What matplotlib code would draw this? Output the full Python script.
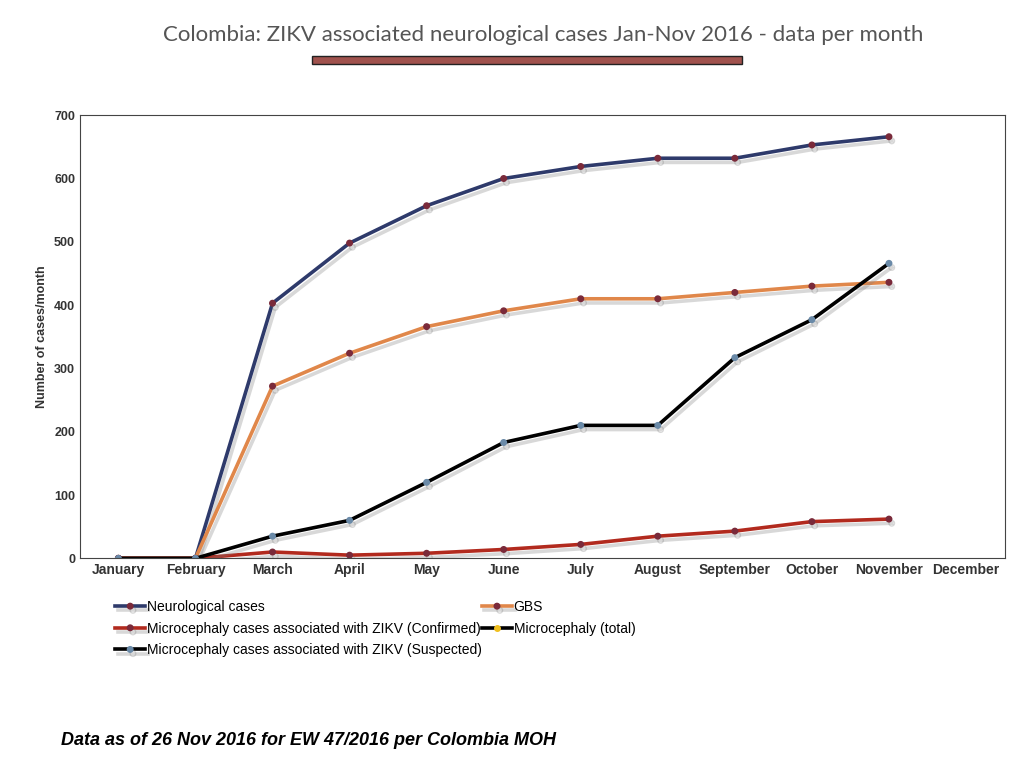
import matplotlib.pyplot as plt
import matplotlib.patheffects as pe
from matplotlib.lines import Line2D
import numpy as np

plt.rcParams["font.family"] = ["Liberation Sans", "DejaVu Sans"]

months = ["January", "February", "March", "April", "May", "June", "July",
          "August", "September", "October", "November", "December"]
neuro = [0, 0, 403, 498, 557, 600, 619, 632, 632, 653, 666]
gbs = [0, 0, 272, 324, 366, 391, 410, 410, 420, 430, 436]
micro_conf = [0, 0, 10, 5, 8, 14, 22, 35, 43, 58, 62]
micro_susp = [0, 0, 35, 60, 120, 183, 210, 210, 317, 377, 466]

fig = plt.figure(figsize=(10.24, 7.68), dpi=100)
ax = fig.add_axes([0.078, 0.273, 0.903, 0.577])

shadow = [pe.SimpleLineShadow(offset=(2, -3), shadow_color="gray", alpha=0.3), pe.Normal()]
x = np.arange(len(neuro))

series = [
    (neuro, "#2e3a6b", "#7a2a3a", "Neurological cases"),
    (gbs, "#e0874a", "#7a2a3a", "GBS"),
    (micro_conf, "#b22a1e", "#7a2a3a", "Microcephaly cases associated with ZIKV (Confirmed)"),
    (micro_susp, "#000000", "#6a8aa8", "Microcephaly cases associated with ZIKV (Suspected)"),
]
h = {}
for vals, col, mcol, lab in series:
    line, = ax.plot(x, vals, color=col, lw=2.6, marker="o", ms=4,
                    markerfacecolor=mcol, markeredgecolor=mcol, label=lab,
                    path_effects=shadow)
    h[lab] = line
total = Line2D([], [], color="black", lw=2.6, marker="o", ms=4,
               markerfacecolor="#f0c020", markeredgecolor="#f0c020",
               label="Microcephaly (total)")

ax.set_xlim(-0.5, 11.5)
ax.set_ylim(0, 700)
ax.set_xticks(range(12))
ax.set_xticklabels(months, fontsize=10, fontweight="bold", color="#333333")
ax.set_yticks(range(0, 701, 100))
ax.tick_params(axis="y", labelsize=9, length=0)
for t in ax.get_yticklabels():
    t.set_fontweight("bold")
    t.set_color("#333333")
ax.tick_params(axis="x", length=0)
ax.set_ylabel("Number of cases/month", fontsize=9, fontweight="bold", color="#333333")
for s in ax.spines.values():
    s.set_color("#444444")
    s.set_linewidth(0.8)

order = [h["Neurological cases"],
         h["Microcephaly cases associated with ZIKV (Confirmed)"],
         h["Microcephaly cases associated with ZIKV (Suspected)"],
         h["GBS"], total]
fig.legend(handles=order, loc="upper left", bbox_to_anchor=(0.1, 0.235),
           ncol=2, frameon=False, fontsize=10, handlelength=2.2,
           columnspacing=0.0, labelspacing=0.55, handletextpad=0.1)

fig.text(0.53, 0.955, "Colombia: ZIKV associated neurological cases Jan-Nov 2016 - data per month",
         ha="center", va="center", fontsize=16, color="#555555", family="Lato")
fig.patches.append(plt.Rectangle((0.305, 0.917), 0.42, 0.01, transform=fig.transFigure,
                                 facecolor="#a0524d", edgecolor="#222222", lw=1))
fig.text(0.06, 0.03, "Data as of 26 Nov 2016 for EW 47/2016 per Colombia MOH",
         fontsize=13, fontweight="bold", style="italic")

fig.savefig("out.png", dpi=100)
